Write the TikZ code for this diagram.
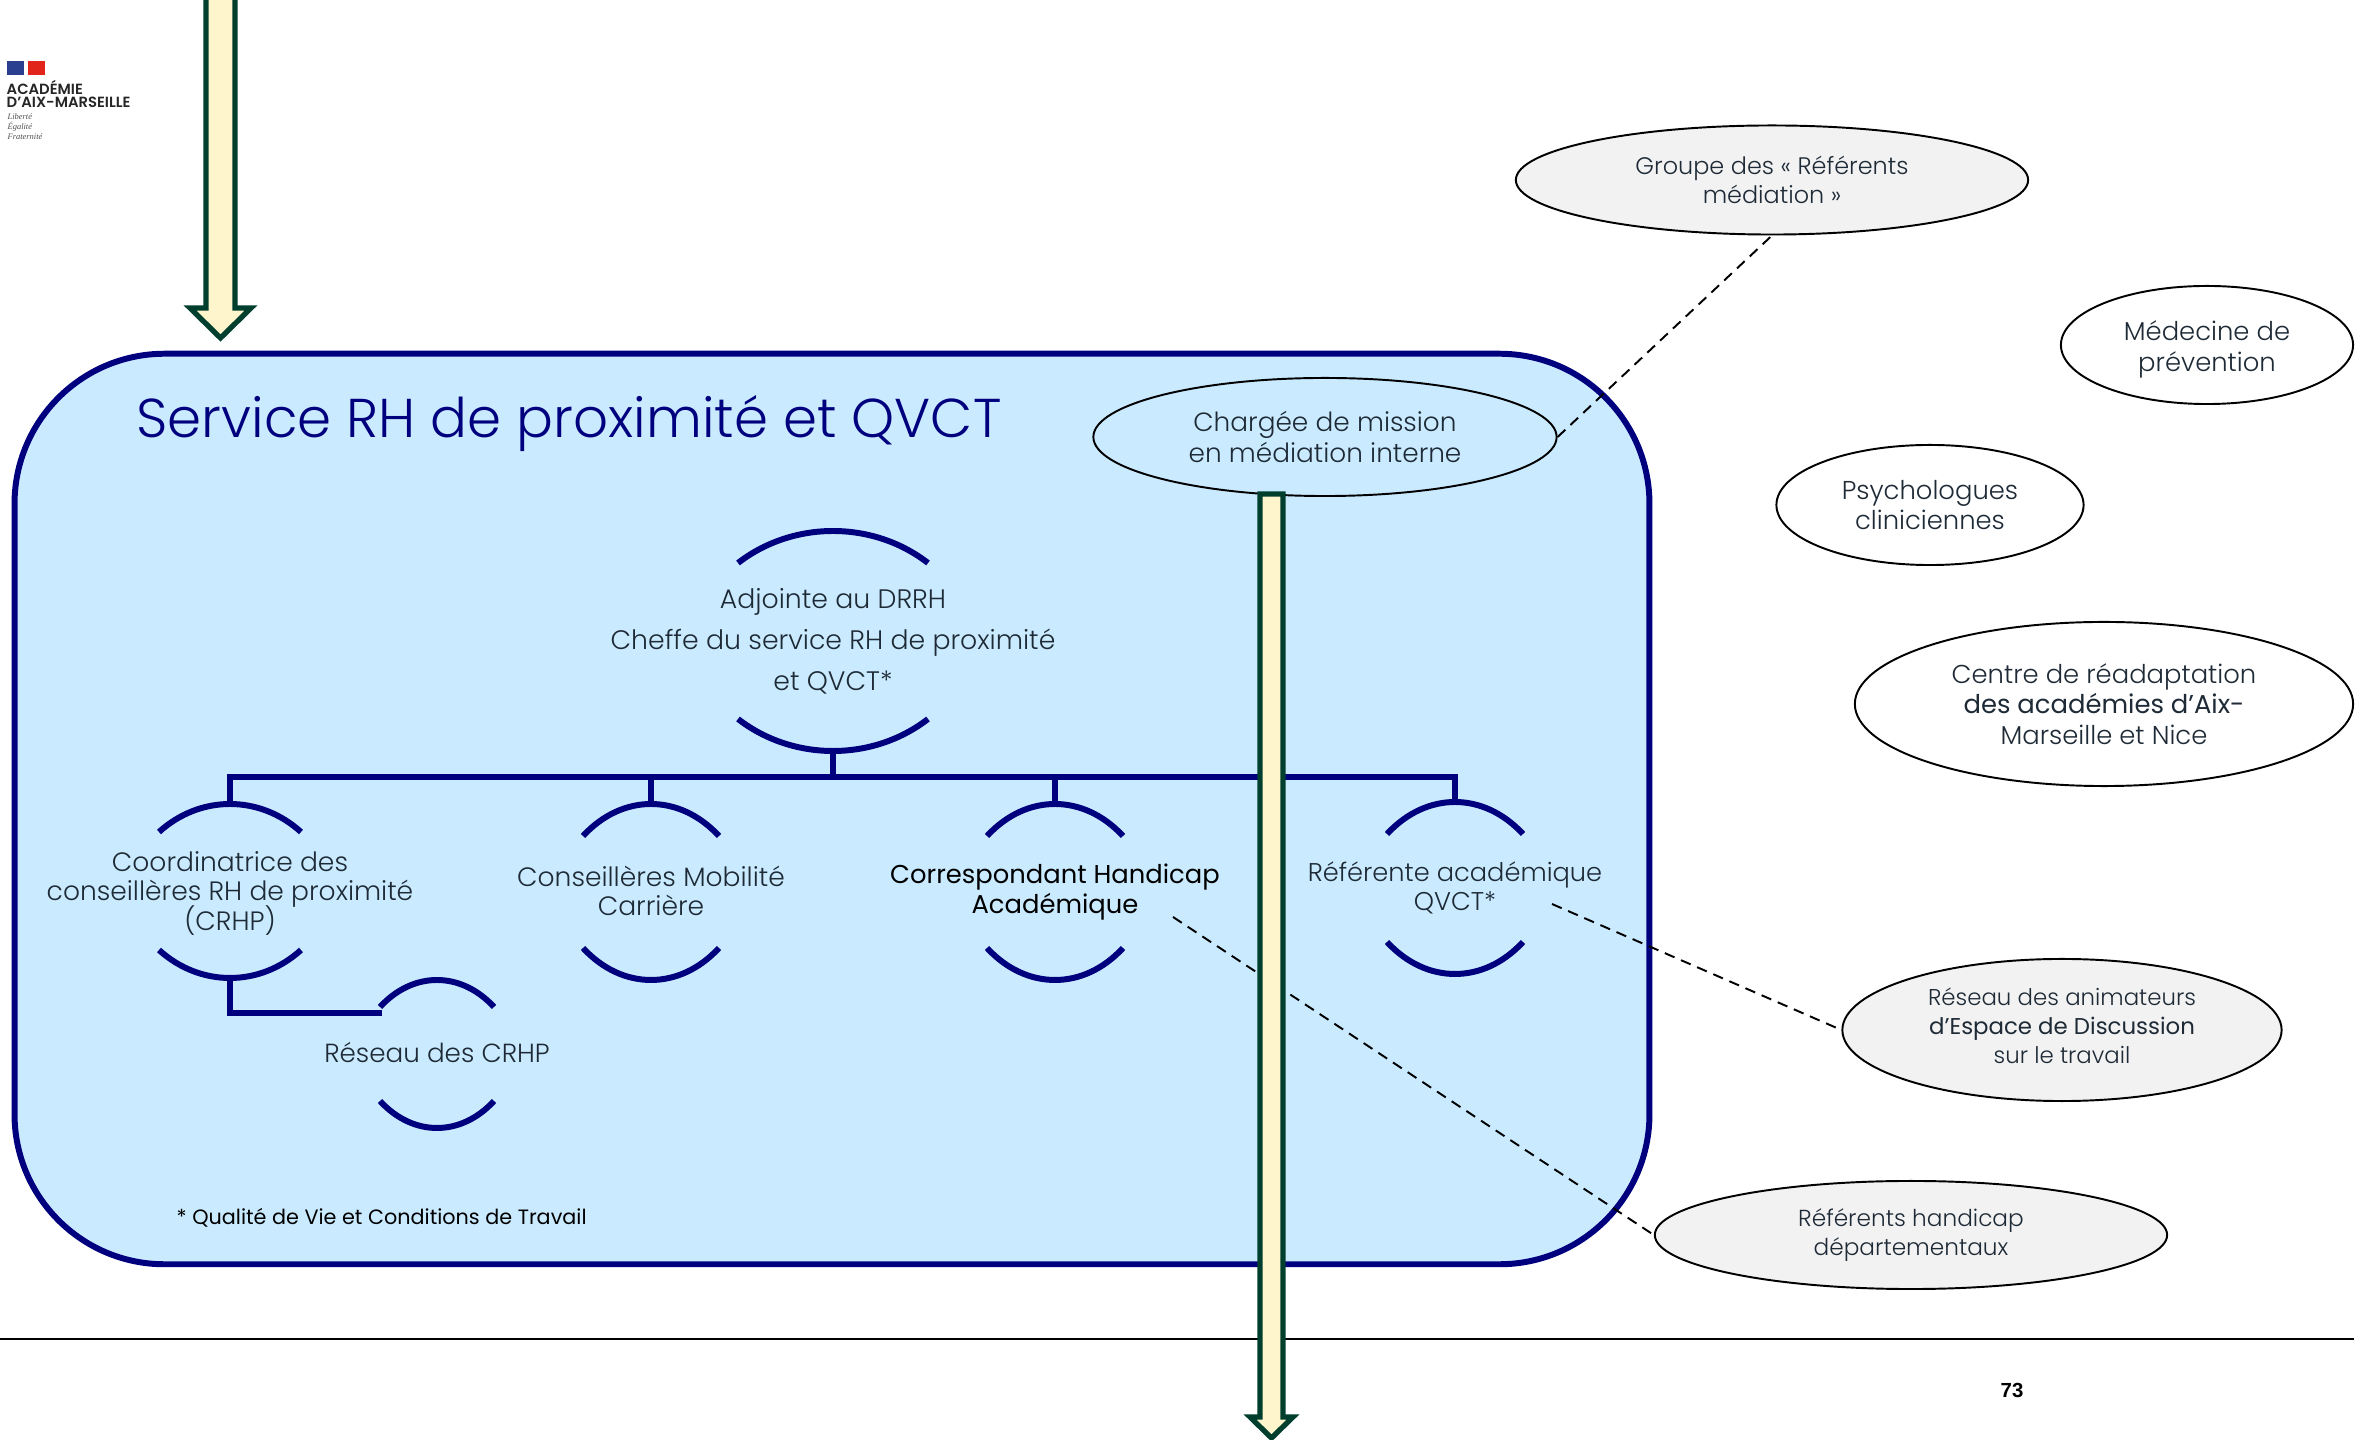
\documentclass[tikz,border=0pt]{standalone}
\usepackage{fontspec}
\setmainfont{Poppins}[UprightFont=* Light, BoldFont=* SemiBold]
\newfontfamily\regfont{Poppins}
\newfontfamily\numfont{Liberation Sans}
\newfontfamily\devisefont{Liberation Serif}
\usepackage{xcolor}
\usetikzlibrary{shapes.geometric}
\definecolor{rhnavy}{HTML}{00007F}
\definecolor{rhblue}{HTML}{CAEBFF}
\definecolor{rhgreen}{HTML}{003F2E}
\definecolor{rhyellow}{HTML}{FFF5CC}
\definecolor{rhtext}{HTML}{1E2A36}
\definecolor{flagblue}{HTML}{2B3F91}
\definecolor{flagred}{HTML}{E1251B}
\tikzset{
  servicebox/.style = {rectangle, draw=rhnavy, fill=rhblue, line width=1.7pt,
    rounded corners=1.5cm, inner sep=0pt},
  treeline/.style = {draw=rhnavy, line width=1.7pt},
  arcline/.style = {draw=rhnavy, line width=1.7pt},
  bigarrow/.style = {draw=rhgreen, fill=rhyellow, line width=1.5pt, miter limit=10},
  dashlink/.style = {draw=black, line width=0.55pt, dash pattern=on 3pt off 2pt},
  rolenode/.style = {align=center, inner sep=0pt, text=rhtext,
    font=\fontsize{7.55}{8.4}\selectfont},
  bubble/.style = {ellipse, draw=black, line width=0.55pt, align=center, inner sep=0pt,
    text=rhtext, font=\fontsize{6.8}{8.3}\selectfont},
  greybubble/.style = {bubble, fill=black!5},
  whitebubble/.style = {bubble, fill=white, font=\fontsize{7.35}{8.7}\selectfont}
}
% top arc and bottom arc round a role, with a coordinate on each
\newcommand{\rolearcs}[6]{
  \draw[arcline] ({#2-#4},{#3-#5}) .. controls ({#2-#4*0.42},{#3-#5-#6*4/3}) and ({#2+#4*0.42},{#3-#5-#6*4/3}) .. ({#2+#4},{#3-#5});
  \draw[arcline] ({#2-#4},{#3+#5}) .. controls ({#2-#4*0.42},{#3+#5+#6*4/3}) and ({#2+#4*0.42},{#3+#5+#6*4/3}) .. ({#2+#4},{#3+#5});
  \coordinate (#1-top) at ({#2},{#3-#5-#6});
  \coordinate (#1-bot) at ({#2},{#3+#5+#6});
}
\begin{document}
\begin{tikzpicture}[x=0.01cm, y=-0.01cm]
\useasboundingbox (0,0) rectangle (2374,1440);

% logo
\fill[flagblue] (7,61) rectangle (24,75);
\fill[flagred] (28,61) rectangle (45,75);
\node[anchor=west, inner sep=0pt, font=\bfseries\fontsize{4.2}{5}\selectfont, text=black!85] (acad) at (6,87) {ACADÉMIE};
\node[anchor=west, inner sep=0pt, font=\bfseries\fontsize{4.2}{5}\selectfont, text=black!85] (aix) at (6,102) {D’AIX-MARSEILLE};
\node[anchor=north west, inner sep=0pt, align=left, font=\devisefont\itshape\fontsize{2.4}{2.8}\selectfont, text=black!70] (devise) at (7,113) {Liberté\\Égalité\\Fraternité};

% service
\node[servicebox, minimum width=16.34cm, minimum height=9.1cm] (service) at (832,809) {};
\node[anchor=west, inner sep=0pt, text=rhnavy, font=\fontsize{15.55}{17}\selectfont] (title) at (136,424) {Service RH de proximité et QVCT};
\node[bubble, minimum width=4.63cm, minimum height=1.18cm, font=\fontsize{7.5}{9}\selectfont] (charge) at (1325,437) {Chargée de mission\\en médiation interne};

% roles
\node[rolenode, font=\fontsize{7.6}{11.6}\selectfont] (adjointe) at (833,641) {Adjointe au DRRH\\Cheffe du service RH de proximité\\et QVCT*};
\rolearcs{adjointe}{833}{641}{95}{78}{32}
\node[rolenode] (coord) at (230,891) {Coordinatrice des\\conseillères RH de proximité\\\smash{(CRHP)}};
\rolearcs{coord}{230}{891}{71}{59}{28}
\node[rolenode] (mobilite) at (651,891) {Conseillères Mobilité\\Carrière};
\rolearcs{mobilite}{651}{892}{68}{56}{32}
\node[rolenode, text=black, font=\regfont\fontsize{7.34}{8.3}\selectfont] (handicap) at (1055,892) {Correspondant Handicap\\Académique};
\rolearcs{handicap}{1055}{892}{68}{56}{32}
\node[rolenode, font=\fontsize{7.3}{8.3}\selectfont] (qvct) at (1455,888) {Référente académique\\QVCT*};
\rolearcs{qvct}{1455}{888}{68}{54}{32}
\node[rolenode, font=\fontsize{7.45}{8.3}\selectfont] (crhp) at (437,1053) {Réseau des CRHP};
\rolearcs{crhp}{437}{1054}{57}{47}{27}
\node[anchor=west, inner sep=0pt, text=black, font=\regfont\fontsize{5.9}{7}\selectfont] (note) at (176,1218) {* Qualité de Vie et Conditions de Travail};

\coordinate (bar) at (833,777);
\coordinate (crhp-left) at (382,1013);
\draw[treeline] (adjointe-bot) -- (bar);
\draw[treeline] (coord-top) |- (bar) -| (qvct-top);
\draw[treeline] (mobilite-top) -- (mobilite-top |- bar);
\draw[treeline] (handicap-top) -- (handicap-top |- bar);
\draw[treeline] (coord-bot) |- (crhp-left);

% ellipses outside
\node[greybubble, minimum width=5.12cm, minimum height=1.09cm] (groupe) at (1772,180) {Groupe des «~Référents\\médiation~»};
\node[whitebubble, minimum width=2.92cm, minimum height=1.18cm] (medecine) at (2207,345) {\rule{0pt}{8.1pt}Médecine de\\prévention};
\node[whitebubble, minimum width=3.07cm, minimum height=1.2cm] (psy) at (1930,505) {Psychologues\\cliniciennes};
\node[whitebubble, minimum width=4.98cm, minimum height=1.64cm] (centre) at (2104,704) {Centre de réadaptation\\{\regfont des académies d’Aix-}\\Marseille et Nice};
\node[greybubble, minimum width=4.39cm, minimum height=1.42cm, font=\fontsize{6.5}{8.2}\selectfont] (animateurs) at (2062,1030) {Réseau des animateurs\\{\regfont d’Espace de Discussion}\\sur le travail\rule[-2.4pt]{0pt}{0pt}};
\node[greybubble, minimum width=5.12cm, minimum height=1.08cm, font=\fontsize{6.6}{8.2}\selectfont] (referents) at (1911,1235) {Référents handicap\\départementaux};

% dashed links
\coordinate (qvct-end) at (1552,904);
\coordinate (handicap-end) at (1173,917);
\draw[dashlink] (charge.east) -- (groupe.south);
\draw[dashlink] (qvct-end) -- (animateurs.west);
\draw[dashlink] (handicap-end) -- (referents.west);

% footer
\coordinate (rule-l) at (0,1339);
\coordinate (rule-r) at (2354,1339);
\draw[black, line width=0.6pt] (rule-l) -- (rule-r);
\node[inner sep=0pt, font=\numfont\bfseries\fontsize{5.8}{7}\selectfont] (page) at (2012,1390) {73};

% arrows
\draw[bigarrow] (206,-10) -- (235,-10) -- (235,308) -- (251,308) -- (220.5,338) -- (190,308) -- (206,308) -- cycle;
\draw[bigarrow] (1260,494) -- (1283,494) -- (1283,1417) -- (1293,1417) -- (1271.5,1438) -- (1250,1417) -- (1260,1417) -- cycle;
\end{tikzpicture}
\end{document}
